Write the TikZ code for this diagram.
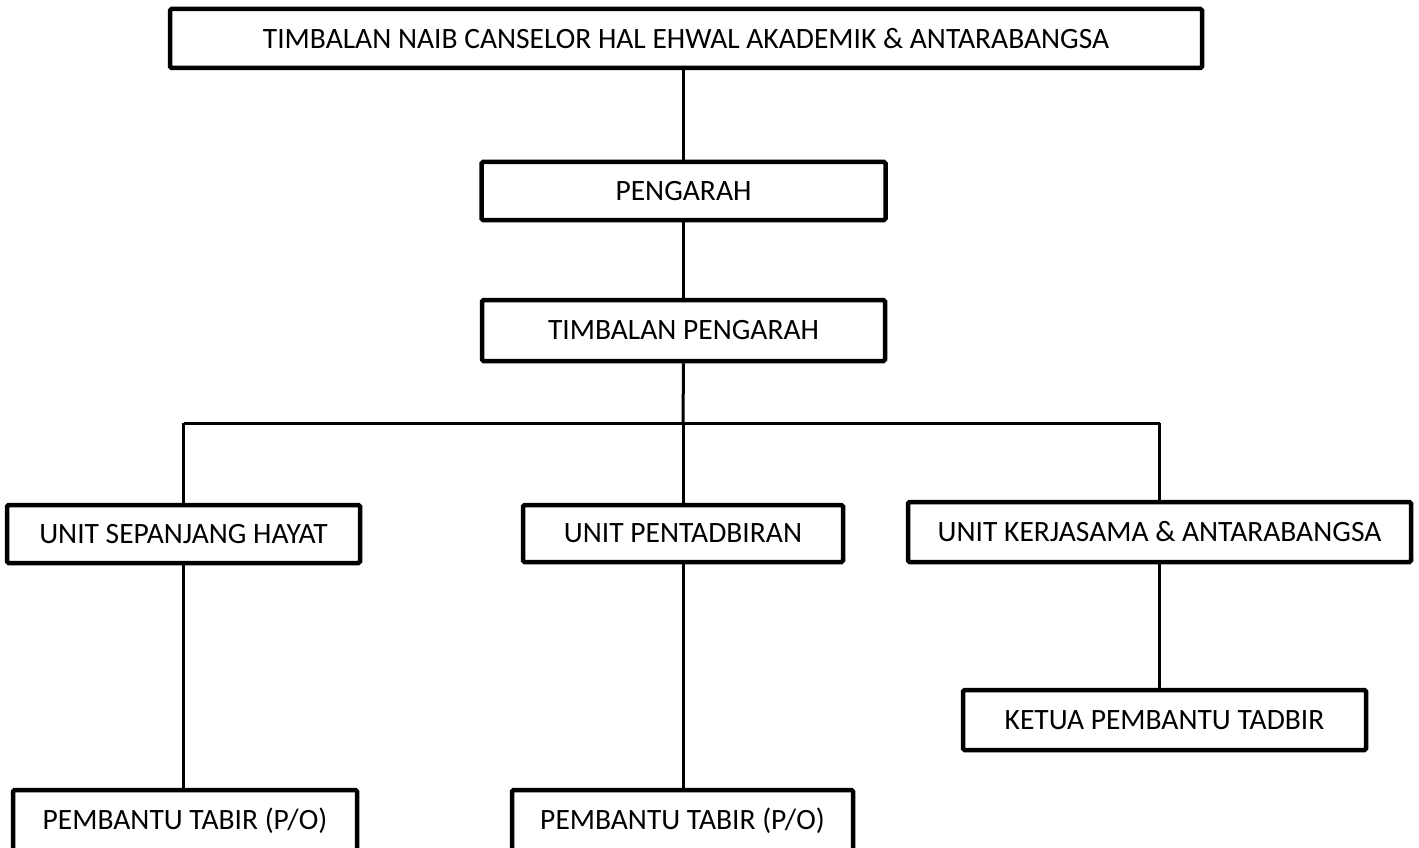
\documentclass[tikz,border=0pt]{standalone}
\usepackage{fontspec}
\setmainfont{Carlito}
\begin{document}
\begin{tikzpicture}[x=1pt,y=-1pt,
  orgbox/.style={draw=black,line width=4.5pt,rounded corners=1.5pt,fill=white,inner sep=0pt,
    font=\fontsize{29.5}{34}\selectfont,text=black},
  conn/.style={draw=black,line width=3pt}]
\useasboundingbox (0,0) rectangle (1419,848);
\clip (0,0) rectangle (1419,848);
\fill[white] (0,0) rectangle (1419,848);
\node[orgbox,minimum width=1032pt,minimum height=59pt] (top) at (686,38.5) {TIMBALAN NAIB CANSELOR HAL EHWAL AKADEMIK \& ANTARABANGSA};
\node[orgbox,minimum width=404pt,minimum height=58pt] (peng) at (683.5,191) {PENGARAH};
\node[orgbox,minimum width=403pt,minimum height=61pt] (tp) at (683.5,330.5) {TIMBALAN PENGARAH};
\node[orgbox,minimum width=353pt,minimum height=58pt] (ush) at (183.5,534) {UNIT SEPANJANG HAYAT};
\node[orgbox,minimum width=320pt,minimum height=57pt] (upt) at (683,533.5) {UNIT PENTADBIRAN};
\node[orgbox,minimum width=503pt,minimum height=60pt] (uka) at (1159.5,532) {UNIT KERJASAMA \& ANTARABANGSA};
\node[orgbox,minimum width=403pt,minimum height=60pt] (ketua) at (1164.5,720) {KETUA PEMBANTU TADBIR};
\node[orgbox,minimum width=344pt,minimum height=62pt] (pt1) at (185,821) {PEMBANTU TABIR (P/O)};
\node[orgbox,minimum width=341pt,minimum height=62pt] (pt2) at (682.5,821) {PEMBANTU TABIR (P/O)};
\coordinate (bus) at (683,423);
\coordinate (busL) at (ush.north |- bus);
\coordinate (busR) at (uka.north |- bus);
\draw[conn] (peng.north |- top.south) -- (peng.north);
\draw[conn] (peng.south) -- (tp.north);
\draw[conn] (tp.south) -- (bus);
\draw[conn] (busL) -- (busR);
\draw[conn] (busL) -- (ush.north);
\draw[conn] (bus) -- (upt.north);
\draw[conn] (busR) -- (uka.north);
\draw[conn] (ush.south) -- (ush.south |- pt1.north);
\draw[conn] (upt.south) -- (upt.south |- pt2.north);
\draw[conn] (uka.south) -- (uka.south |- ketua.north);
\end{tikzpicture}
\end{document}
